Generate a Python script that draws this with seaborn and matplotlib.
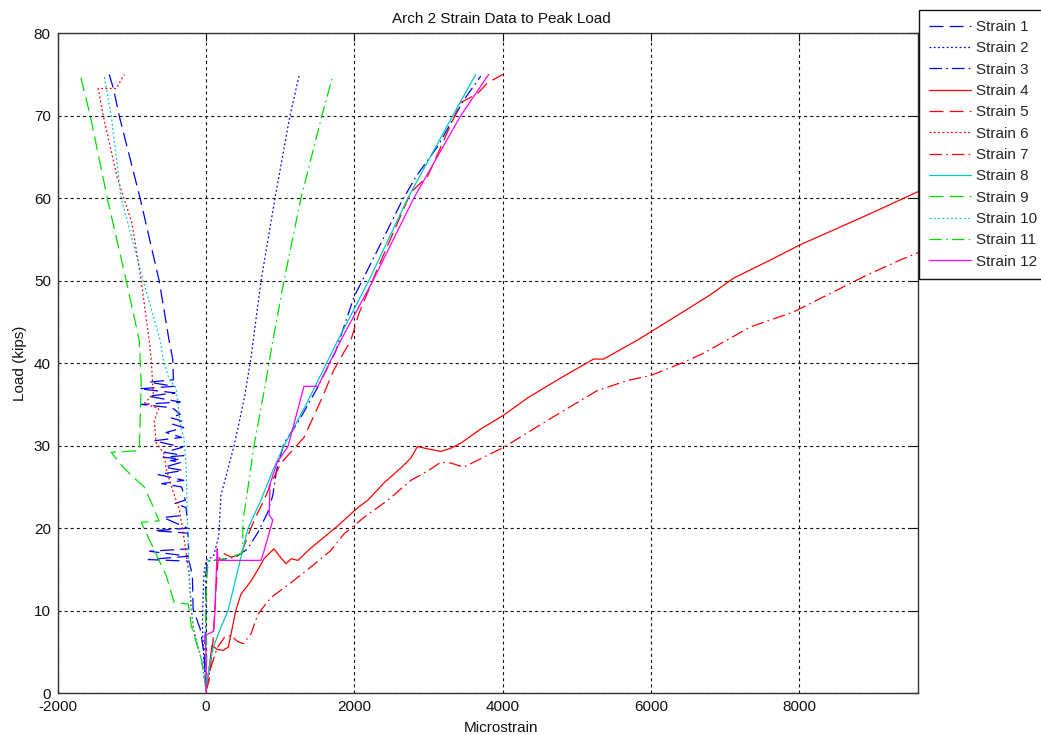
import matplotlib
matplotlib.use("Agg")
import matplotlib.pyplot as plt
import seaborn as sns
import pandas as pd

# ---------------- data (strain, load) ----------------
strain1_x = [0, -30, -80, -175, -185, -230, -780, -240, -760, -235, -245, -700, -250, -580, -260,
             -270, -420, -280, -330, -600, -300, -646, -310, -560, -330, -480, -350, -580, -300,
             -560, -320, -700, -330, -540, -300, -450, -330, -480, -350, -400, -460, -875, -350,
             -780, -420, -900, -430, -770, -440, -450, -500, -633, -890, -1172, -1250, -1306]
strain1_y = [0.3, 4.9, 7.8, 10.2, 14.3, 16.0, 16.2, 16.6, 17.2, 17.5, 19.4, 19.7, 20.0, 21.3, 21.6,
             22.5, 23.0, 23.4, 25.0, 25.4, 25.8, 26.5, 27.0, 27.4, 28.0, 28.2, 28.4, 28.6, 28.8,
             29.2, 29.8, 30.6, 31.0, 31.6, 32.2, 32.6, 33.0, 33.4, 33.8, 34.2, 34.6, 35.0, 35.3,
             36.0, 36.4, 36.9, 37.2, 37.7, 38.0, 40.5, 42.8, 50.0, 60.0, 70.0, 73.3, 75.0]

strain2_x = [0, -30, -50, -40, -30, 0, 100, 170, 200, 260, 377, 450, 520, 606, 741, 929, 1131, 1253]
strain2_y = [0.5, 4.0, 8.0, 12.0, 14.5, 16.1, 16.6, 19.0, 24.0, 26.0, 30.0, 33.0, 36.0, 40.7, 50.0,
             60.0, 70.0, 74.8]

strain3_x = [0, -20, 0, -10, 20, 200, 400, 560, 700, 835, 900, 950, 1050, 1250, 1500, 1750, 1993,
             2384, 2626, 2828, 3125, 3300, 3475, 3704]
strain3_y = [0.5, 5.0, 10.0, 14.0, 16.0, 16.2, 16.5, 17.5, 19.5, 22.0, 24.0, 27.0, 30.3, 33.0, 37.0,
             41.5, 48.0, 55.0, 59.4, 62.6, 66.3, 69.1, 71.9, 74.8]

strain4_x = [0, 40, 80, 150, 230, 300, 337, 400, 470, 606, 700, 781, 916, 1000, 1077, 1150, 1239,
             1400, 1589, 1778, 2047, 2182, 2400, 2650, 2761, 2850, 3000, 3165, 3300, 3434, 3700,
             4013, 4337, 4781, 5226, 5360, 5818, 6357, 6801, 7111, 7609, 8000, 8500, 9000, 9603]
strain4_y = [0.3, 3.0, 5.8, 5.3, 5.2, 5.6, 7.2, 10.0, 12.0, 13.6, 15.0, 16.3, 17.5, 16.5, 15.7,
             16.3, 16.1, 17.5, 18.9, 20.3, 22.5, 23.4, 25.5, 27.5, 28.5, 29.9, 29.6, 29.3, 29.7,
             30.3, 32.0, 33.7, 35.8, 38.2, 40.5, 40.5, 42.8, 45.8, 48.3, 50.3, 52.5, 54.3, 56.3,
             58.3, 60.8]

strain5_x = [0, 40, 94, 135, 160, 222, 337, 470, 560, 650, 780, 875, 1010, 1320, 1549, 1724, 1953,
             2060, 2290, 2761, 2990, 3434, 3650, 3800, 4000]
strain5_y = [0.3, 1.5, 6.4, 12.8, 16.0, 17.0, 16.5, 16.8, 19.0, 21.0, 23.4, 25.4, 27.9, 31.0, 35.5,
             39.2, 42.8, 46.0, 51.0, 60.7, 62.7, 71.6, 72.6, 74.0, 75.0]

strain6_x = [0, -60, -160, -200, -229, -269, -310, -364, -444, -539, -566, -673, -700, -640, -835,
             -713, -740, -768, -875, -1000, -1199, -1387, -1455, -1212, -1104]
strain6_y = [0.3, 4.0, 7.2, 10.0, 14.3, 17.0, 19.5, 22.4, 24.4, 27.2, 29.0, 30.3, 33.0, 34.5, 35.1,
             36.3, 40.4, 42.8, 50.0, 57.0, 62.5, 70.0, 73.3, 73.3, 75.0]

strain7_x = [0, 60, 150, 250, 337, 420, 500, 606, 700, 875, 1145, 1414, 1683, 1858, 2128, 2451,
             2761, 3000, 3165, 3300, 3475, 4013, 4646, 5279, 5683, 5993, 6438, 6707, 7340, 7919,
             8916, 9360, 9603]
strain7_y = [0.3, 3.0, 5.5, 6.8, 7.0, 6.3, 6.0, 7.2, 9.6, 11.6, 13.4, 15.3, 17.3, 19.3, 21.3, 23.4,
             25.8, 27.0, 28.0, 27.9, 27.4, 29.8, 33.3, 36.7, 37.9, 38.5, 40.1, 41.2, 44.4, 46.2,
             50.7, 52.5, 53.4]

strain8_x = [0, 40, 94, 200, 296, 430, 566, 740, 900, 1050, 1350, 1778, 2195, 2720, 3326, 3636]
strain8_y = [0.5, 3.0, 5.5, 8.0, 10.0, 15.0, 20.0, 23.4, 27.0, 30.0, 35.0, 42.8, 50.0, 60.0, 70.0, 75.0]

strain9_x = [0, -60, -200, -240, -430, -540, -875, -633, -768, -835, -983, -1118, -1280, -900, -890,
             -875, -902, -1077, -1333, -1562, -1697]
strain9_y = [0.5, 4.0, 8.2, 10.8, 11.0, 14.3, 20.7, 20.9, 23.7, 25.0, 26.2, 27.4, 29.2, 29.4, 33.0,
             37.6, 42.8, 50.0, 60.0, 70.0, 74.9]

strain10_x = [0, -60, -175, -229, -250, -269, -300, -337, -404, -498, -579, -620, -848, -1145, -1279,
              -1374]
strain10_y = [0.3, 4.0, 8.0, 14.3, 20.0, 27.5, 31.0, 32.0, 37.0, 38.0, 40.5, 42.8, 50.0, 60.0, 70.0,
              74.8]

strain11_x = [0, 10, -10, 10, 27, 200, 300, 490, 498, 550, 646, 770, 902, 1050, 1279, 1562, 1710]
strain11_y = [0.3, 5.0, 10.0, 14.0, 16.0, 16.2, 16.4, 17.0, 21.0, 24.0, 30.0, 36.0, 42.8, 50.0,
              60.0, 70.0, 74.9]

strain12_x = [0, 0, -10, 100, 120, 135, 150, 160, 740, 780, 900, 850, 860, 848, 960, 1104, 1320,
              1508, 1818, 2250, 2801, 3434, 3811]
strain12_y = [0.0, 4.0, 7.0, 7.5, 10.0, 14.0, 17.5, 16.1, 16.1, 17.2, 21.0, 21.6, 24.6, 25.0, 28.0,
              29.9, 37.2, 37.2, 42.8, 50.0, 60.0, 70.0, 75.0]

series_names = [f"Strain {i}" for i in range(1, 13)]
series_x = [strain1_x, strain2_x, strain3_x, strain4_x, strain5_x, strain6_x,
            strain7_x, strain8_x, strain9_x, strain10_x, strain11_x, strain12_x]
series_y = [strain1_y, strain2_y, strain3_y, strain4_y, strain5_y, strain6_y,
            strain7_y, strain8_y, strain9_y, strain10_y, strain11_y, strain12_y]

x_ticks = [-2000, 0, 2000, 4000, 6000, 8000]
y_ticks = [0, 10, 20, 30, 40, 50, 60, 70, 80]

# ---------------- styles ----------------
BLUE, RED, CYAN, GREEN, MAG = "#0000ff", "#ff0000", "#00c8c8", "#00e000", "#ff00ff"
LONG = (0, (10, 4.5))
DOT = (0, (1.3, 1.8))
DASHDOT = (0, (9, 3, 1.2, 3))
SOLID = "-"
colors = [BLUE, BLUE, BLUE, RED, RED, RED, RED, CYAN, GREEN, CYAN, GREEN, MAG]
styles = [LONG, DOT, DASHDOT, SOLID, LONG, DOT, DASHDOT, SOLID, LONG, DOT, DASHDOT, SOLID]

sns.set_theme(style="white")
plt.rcParams["font.family"] = ["Liberation Sans", "DejaVu Sans"]
plt.rcParams["lines.scale_dashes"] = False

fig = plt.figure(figsize=(10.41, 7.35), dpi=100, facecolor="white")
ax = fig.add_axes([57.8 / 1041, (735 - 693.2) / 735, (918.3 - 57.8) / 1041, (693.2 - 33.2) / 735])

for name, xs, ys, c, ls in zip(series_names, series_x, series_y, colors, styles):
    df = pd.DataFrame({"strain": xs, "load": ys})
    sns.lineplot(data=df, x="strain", y="load", sort=False, estimator=None,
                 color=c, linestyle=ls, linewidth=0.9, label=name, ax=ax)

ax.set_xlim(-2000, 9605)
ax.set_ylim(0, 80)
ax.set_xticks(x_ticks)
ax.set_yticks(y_ticks)
ax.set_xticklabels([str(t) for t in x_ticks])
ax.set_yticklabels([str(t) for t in y_ticks])
ax.grid(True, color="#111111", linestyle=(0, (2.2, 2.2)), linewidth=0.8)
ax.tick_params(direction="in", length=6, width=0.8, colors="#111111", labelsize=11,
               top=True, right=True, pad=5)
ax.tick_params(axis="x", pad=5)
for sp in ax.spines.values():
    sp.set_color("#333333")
    sp.set_linewidth(1.0)

ax.set_title("Arch 2 Strain Data to Peak Load", fontsize=11, color="#111111", x=0.515, pad=7)
ax.set_xlabel("Microstrain", fontsize=11, color="#111111")
ax.set_ylabel("Load (kips)", fontsize=11, color="#111111")
ax.xaxis.set_label_coords(0.515, -0.042)
ax.yaxis.set_label_coords(-0.036, 0.5)

handles, labels = ax.get_legend_handles_labels()
leg = ax.legend(handles, labels, loc="upper left", bbox_to_anchor=(919 / 1041, (735 - 10) / 735),
                bbox_transform=fig.transFigure, fontsize=11, frameon=True, fancybox=False,
                shadow=False, framealpha=1, edgecolor="#111111", handlelength=2.75,
                handletextpad=0.35, labelspacing=0.48, borderpad=0.65, borderaxespad=0)
leg.get_frame().set_linewidth(1.0)

fig.savefig("out.png", dpi=100, facecolor="white")
